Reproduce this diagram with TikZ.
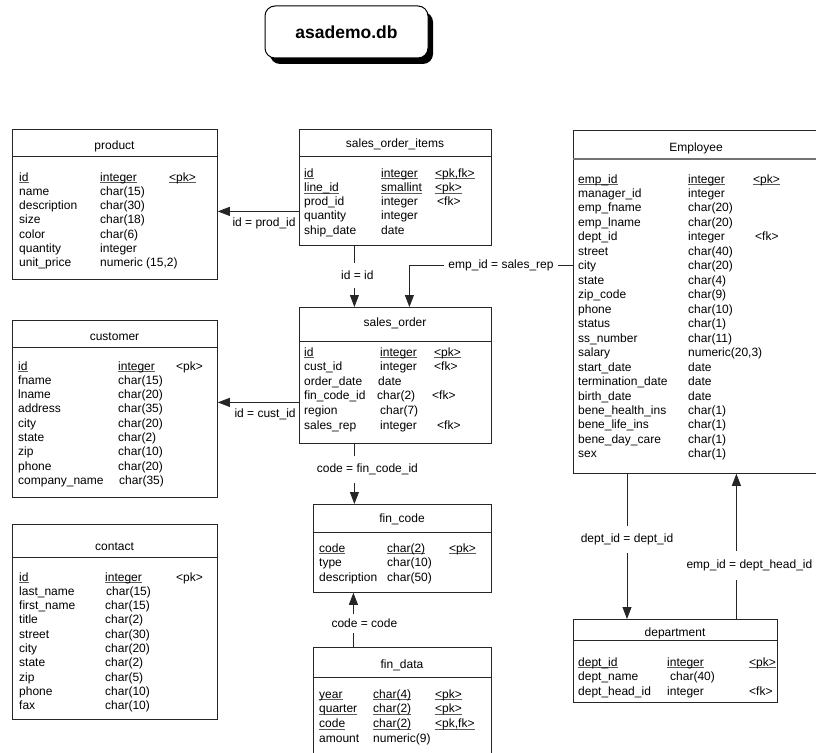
\documentclass[tikz,border=0pt]{standalone}
\usepackage{fontspec}
\setmainfont{Liberation Sans}
\usepackage{array}
\usetikzlibrary{positioning,arrows.meta,shadows}
\newcommand{\keyline}[1]{\setbox0\hbox{#1}\rlap{\textcolor{black!65}{\rule[-2.2pt]{\wd0}{0.8pt}}}\box0}

\begin{document}
\begin{tikzpicture}[
x=1pt,y=-1pt,
entity/.style={
    rectangle,
    draw=black!85,
    line width=0.8pt,
    inner sep=0pt,
    anchor=north west
},
divider/.style={line width=0.8pt,draw=black!85},
tname/.style={inner sep=0pt,font=\fontsize{12}{14}\selectfont},
fields/.style={inner sep=0pt,anchor=base west,font=\fontsize{12}{14.3}\selectfont},
arrow/.style={-{Triangle[length=12pt,width=9pt]},line width=0.8pt,draw=black!85},
rellabel/.style={fill=white,inner xsep=4pt,inner ysep=8pt,font=\fontsize{12}{14}\selectfont},
sidelabel/.style={inner sep=1pt,anchor=north east,xshift=-2pt,yshift=-5pt,font=\fontsize{12}{14}\selectfont},
dbname/.style={
    draw,
    rounded corners=10pt,
    line width=1pt,
    fill=white,
    minimum width=163pt,
    minimum height=52pt,
    font=\fontsize{17.5}{20}\selectfont\bfseries,
    drop shadow={shadow xshift=5pt,shadow yshift=-6pt,fill=black,opacity=1}
}
]
\useasboundingbox (0,0) rectangle (816,752);

\node[dbname] (db) at (346.5,32) {asademo.db};

% product
\node[entity,minimum width=205pt,minimum height=150pt] (product) at (12,129) {};
\draw[divider] (12,156) -- (217,156);
\node[tname] (product-t) at (114.5,146) {product};
\node[fields] (product-f) at (19,181) {\begin{tabular}[t]{@{}w{l}{81pt}@{}w{l}{69pt}@{}l@{}}
\keyline{id} & \keyline{integer} & \keyline{<pk>}\\
name & char(15) & \\
description & char(30) & \\
size & char(18) & \\
color & char(6) & \\
quantity & integer & \\
unit\_price & numeric (15,2) & \\
\end{tabular}};

% sales_order_items
\node[entity,minimum width=192pt,minimum height=116pt] (soi) at (299,129) {};
\draw[divider] (299,156) -- (491,156);
\node[tname] (soi-t) at (395,144) {sales\_order\_items};
\node[fields] (soi-f) at (304,177) {\begin{tabular}[t]{@{}w{l}{77pt}@{}w{l}{54pt}@{}l@{}}
\keyline{id} & \keyline{integer} & \keyline{<pk,fk>}\\
\keyline{line\_id} & \keyline{smallint} & \keyline{<pk>}\\
prod\_id & integer & \hspace{2pt}<fk>\\
quantity & integer & \\
ship\_date & date & \\
\end{tabular}};

% customer
\node[entity,minimum width=205pt,minimum height=177pt] (customer) at (12,320) {};
\draw[divider] (12,347) -- (217,347);
\node[tname] (customer-t) at (114.5,337) {customer};
\node[fields] (customer-f) at (18,370) {\begin{tabular}[t]{@{}w{l}{100pt}@{}w{l}{58pt}@{}l@{}}
\keyline{id} & \keyline{integer} & <pk>\\
fname & char(15) & \\
lname & char(20) & \\
address & char(35) & \\
city & char(20) & \\
state & char(2) & \\
zip & char(10) & \\
phone & char(20) & \\
company\_name & \hspace{1pt}char(35) & \\
\end{tabular}};

% contact
\node[entity,minimum width=205pt,minimum height=195pt] (contact) at (12,524) {};
\draw[divider] (12,557) -- (217,557);
\node[tname] (contact-t) at (114.5,547) {contact};
\node[fields] (contact-f) at (19,581) {\begin{tabular}[t]{@{}w{l}{86pt}@{}w{l}{71pt}@{}l@{}}
\keyline{id} & \keyline{integer} & <pk>\\
last\_name & \hspace{1pt}char(15) & \\
first\_name & char(15) & \\
title & char(2) & \\
street & char(30) & \\
city & char(20) & \\
state & char(2) & \\
zip & char(5) & \\
phone & char(10) & \\
fax & char(10) & \\
\end{tabular}};

% sales_order
\node[entity,minimum width=192pt,minimum height=136pt] (so) at (299,307) {};
\draw[divider] (299,341) -- (491,341);
\node[tname] (so-t) at (395,323) {sales\_order};
\node[fields,font=\fontsize{12}{14.6}\selectfont] (so-f) at (304,356) {\begin{tabular}[t]{@{}w{l}{76pt}@{}w{l}{54pt}@{}l@{}}
\keyline{id} & \keyline{integer} & \keyline{<pk>}\\
cust\_id & integer & <fk>\\
order\_date & \hspace{-2pt}date & \\
fin\_code\_id & \hspace{-3pt}char(2) & \hspace{-2pt}<fk>\\
region & char(7) & \\
sales\_rep & integer & \hspace{3pt}<fk>\\
\end{tabular}};

% fin_code
\node[entity,minimum width=178pt,minimum height=88pt] (fincode) at (313,504) {};
\draw[divider] (313,532) -- (491,532);
\node[tname] (fincode-t) at (402,519) {fin\_code};
\node[fields,font=\fontsize{12}{14.5}\selectfont] (fincode-f) at (319,552) {\begin{tabular}[t]{@{}w{l}{68pt}@{}w{l}{62pt}@{}l@{}}
\keyline{code} & \keyline{char(2)} & \keyline{<pk>}\\
type & char(10) & \\
description & char(50) & \\
\end{tabular}};

% fin_data (runs off the bottom edge)
\node[entity,minimum width=178pt,minimum height=112pt] (findata) at (313,647) {};
\draw[divider] (313,677) -- (491,677);
\node[tname] (findata-t) at (402,665) {fin\_data};
\node[fields,font=\fontsize{12}{14.7}\selectfont] (findata-f) at (319,698) {\begin{tabular}[t]{@{}w{l}{54pt}@{}w{l}{62pt}@{}l@{}}
\keyline{year} & \keyline{char(4)} & \keyline{<pk>}\\
\keyline{quarter} & \keyline{char(2)} & \keyline{<pk>}\\
\keyline{code} & \keyline{char(2)} & \keyline{<pk,fk>}\\
amount & numeric(9) & \\
\end{tabular}};

% Employee (runs off the right edge)
\node[entity,minimum width=250pt,minimum height=343pt] (emp) at (573,130) {};
\draw[divider,draw=black!55,line width=1.4pt] (573,159) -- (823,159);
\node[tname] (emp-t) at (696,148) {Employee};
\node[fields,font=\fontsize{12}{14.47}\selectfont] (emp-f) at (578,183) {\begin{tabular}[t]{@{}w{l}{110pt}@{}w{l}{65pt}@{}l@{}}
\keyline{emp\_id} & \keyline{integer} & \keyline{<pk>}\\
manager\_id & integer & \\
emp\_fname & char(20) & \\
emp\_lname & char(20) & \\
dept\_id & integer & \hspace{2pt}<fk>\\
street & char(40) & \\
city & char(20) & \\
state & char(4) & \\
zip\_code & char(9) & \\
phone & char(10) & \\
status & char(1) & \\
ss\_number & char(11) & \\
salary & numeric(20,3) & \\
start\_date & date & \\
termination\_date & date & \\
birth\_date & date & \\
bene\_health\_ins & char(1) & \\
bene\_life\_ins & char(1) & \\
bene\_day\_care & char(1) & \\
sex & char(1) & \\
\end{tabular}};

% department
\node[entity,minimum width=204pt,minimum height=83pt] (dept) at (573,619) {};
\draw[divider] (573,640) -- (777,640);
\node[tname] (dept-t) at (675,633) {department};
\node[fields,font=\fontsize{12}{14.5}\selectfont] (dept-f) at (578,666) {\begin{tabular}[t]{@{}w{l}{89pt}@{}w{l}{82pt}@{}l@{}}
\keyline{dept\_id} & \keyline{integer} & \keyline{<pk>}\\
dept\_name & \hspace{3pt}char(40) & \\
dept\_head\_id & integer & <fk>\\
\end{tabular}};

% relationships
\coordinate (soi-p) at ([yshift=-24pt]soi.west);
\draw[arrow] (soi-p) -- (soi-p -| product.east) node[sidelabel,at start] {id = prod\_id};

\coordinate (soi-s) at ([xshift=-41pt]soi.south);
\draw[arrow] (soi-s) -- (soi-s |- so.north) node[rellabel,pos=0.48,xshift=3pt] {id = id};

\coordinate (emp-w) at ([yshift=36.5pt]emp.west);
\coordinate (so-n) at ([xshift=14pt]so.north);
\draw[arrow] (emp-w) -| (so-n) node[rellabel,pos=0.22,inner ysep=2pt] {emp\_id = sales\_rep};

\coordinate (so-w) at ([yshift=-27pt]so.west);
\draw[arrow] (so-w) -- (so-w -| customer.east) node[sidelabel,at start] {id = cust\_id};

\coordinate (so-s) at ([xshift=-41pt]so.south);
\draw[arrow] (so-s) -- (so-s |- fincode.north) node[rellabel,pos=0.43,xshift=13pt] {code = fin\_code\_id};

\coordinate (fd-n) at ([xshift=-49pt]findata.north);
\draw[arrow] (fd-n) -- (fd-n |- fincode.south) node[rellabel,pos=0.44,xshift=11pt,inner ysep=5pt] {code = code};

\coordinate (emp-s) at ([xshift=54pt]emp.south west);
\draw[arrow] (emp-s) -- (emp-s |- dept.north) node[rellabel,pos=0.45] {dept\_id = dept\_id};

\coordinate (dept-n) at ([xshift=61pt]dept.north);
\draw[arrow] (dept-n) -- (dept-n |- emp.south) node[rellabel,pos=0.37,xshift=13pt,inner ysep=9pt] {emp\_id = dept\_head\_id};

\end{tikzpicture}
\end{document}
